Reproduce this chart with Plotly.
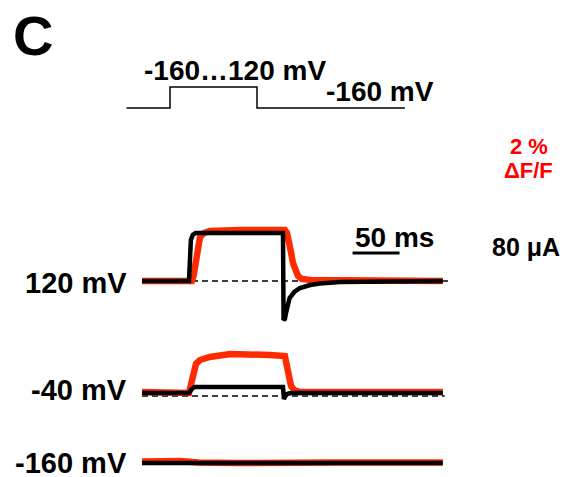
import plotly.graph_objects as go

# ---------------- data (time in ms) ----------------
# voltage protocol (schematic)
prot_t = [0, 50, 50, 150, 150, 320]
prot_v = [-160, -160, 120, 120, -160, -160]

# 120 mV: fluorescence (% dF/F) and current (uA)
f120_t = [0, 53, 55, 57.4, 59.6, 61.7, 66, 72, 104, 136, 152, 154.3, 156.4, 158.5, 160.6, 162.8, 166, 170, 179, 320]
f120_v = [0, 0, 0.24, 0.76, 1.44, 1.76, 1.92, 2.0, 2.04, 2.04, 2.04, 1.92, 1.64, 1.16, 0.72, 0.44, 0.2, 0.08, 0.04, 0]
i120_t = [0, 50, 51, 52, 54, 57, 62, 150, 150.6, 152, 153, 155, 157, 162, 168, 179, 189, 211, 253, 320]
i120_v = [0, 0, 42, 82, 92, 96, 96, 96, -78, -76, -66, -48, -34, -22, -14, -8, -5, -2, -0.6, 0]

# -40 mV
f40_t = [0, 50, 52, 54.3, 57.4, 61.7, 72, 94, 115, 136, 152, 154.3, 156.4, 158.5, 161.7, 168, 320]
f40_v = [0.04, 0, 0.32, 0.84, 1.16, 1.32, 1.44, 1.56, 1.56, 1.52, 1.48, 1.08, 0.6, 0.28, 0.12, 0.04, 0.04]
i40_t = [0, 50, 53, 56, 150, 151, 153, 156, 160, 320]
i40_v = [0, 0, 8, 12, 12, -12, -4, -1, 0, 0]

# -160 mV
f160_t = [0, 20, 40, 60, 100, 200, 320]
f160_v = [0.06, 0.1, 0.08, 0.02, 0.0, 0.02, 0.02]
i160_t = [0, 320]
i160_v = [0, 0]

trace_labels = ["120 mV", "-40 mV", "-160 mV"]
scale_bar_ms = [224, 274]

# ---------------- display mapping ----------------
W, H = 567, 477
PX_PER_MS = 0.94
T0_PX = 142
F_SCALE = 25.0   # px per % dF/F
I_SCALE = 0.5    # px per uA
baselines = [281, 393, 463]
RED = "#ff2a00"
TXT_RED = "#ff0000"
# protocol schematic is drawn compressed: 0.87 px/ms starting at 126.5 px
PROT_PX_PER_MS = 0.87
PROT_T0_PX = 126.5

def fy(vals, base):
    return [base - v * F_SCALE for v in vals]

def iy(vals, base):
    return [base - v * I_SCALE for v in vals]

def prot_x(ts):
    return [(PROT_T0_PX + t * PROT_PX_PER_MS - T0_PX) / PX_PER_MS for t in ts]

fig = go.Figure()

# dashed zero lines
for base, tend in [(baselines[0], 328), (baselines[1] + 3, 322)]:
    fig.add_trace(go.Scatter(x=[0, tend], y=[base, base], mode="lines",
                             line=dict(color="black", width=1.5, dash="6px,4px"),
                             hoverinfo="skip", showlegend=False))

sets = [(f120_t, f120_v, i120_t, i120_v), (f40_t, f40_v, i40_t, i40_v),
        (f160_t, f160_v, i160_t, i160_v)]
for (ft, fv, it, iv), base in zip(sets, baselines):
    fig.add_trace(go.Scatter(x=ft, y=fy(fv, base), mode="lines",
                             line=dict(color=RED, width=6.5),
                             showlegend=False))
    fig.add_trace(go.Scatter(x=it, y=iy(iv, base), mode="lines",
                             line=dict(color="black", width=4.5),
                             showlegend=False))

# scale bar 50 ms
fig.add_trace(go.Scatter(x=scale_bar_ms, y=[253, 253], mode="lines",
                         line=dict(color="black", width=3), showlegend=False))

# protocol
fig.add_trace(go.Scatter(x=prot_x(prot_t), y=[108 - (v + 160) * 0.075 for v in prot_v],
                         mode="lines", line=dict(color="black", width=1.5), showlegend=False))

def ann(text, px, py, size, color="black", xanchor="center"):
    fig.add_annotation(x=px / W, y=1 - py / H, xref="paper", yref="paper",
                       text=text, showarrow=False, xanchor=xanchor, yanchor="middle",
                       borderpad=0,
                       font=dict(family="Liberation Sans, Arial", size=size, color=color, weight="bold"))

ann("C", 33, 36, 56)
ann("-160…120 mV", 235, 70, 28)
ann("-160 mV", 380, 91, 28)
ann("2 %", 529, 146, 22, TXT_RED)
ann("ΔF/F", 528, 170, 22, TXT_RED)
ann("80 μA", 526, 247, 25)
ann("50 ms", 394, 237, 28)
for lab, base in zip(trace_labels, [283, 390, 463]):
    ann(lab, 128, base, 29, xanchor="right")

fig.update_layout(
    width=W, height=H, margin=dict(l=0, r=0, t=0, b=0),
    paper_bgcolor="white", plot_bgcolor="white",
    xaxis=dict(range=[-T0_PX / PX_PER_MS, (W - T0_PX) / PX_PER_MS], visible=False,
               domain=[0, 1], autorange=False),
    yaxis=dict(range=[H, 0], visible=False, domain=[0, 1], autorange=False),
    showlegend=False,
)
fig.write_html("out.html", config={"displayModeBar": False},
               post_script="document.body.style.margin='0';")
